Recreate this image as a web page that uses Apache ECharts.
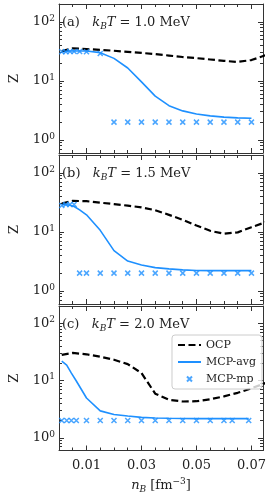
<!DOCTYPE html>
<html><head><meta charset="utf-8">
<script src="https://cdn.jsdelivr.net/npm/echarts@6/dist/echarts.min.js"></script>
<style>html,body{margin:0;padding:0;background:#fff}#c{width:270px;height:495px}</style>
</head><body><div id="c"></div>
<script>
// ---- data ----
const panelLabels = ['(a)', '(b)', '(c)'];
const temps = ['1.0', '1.5', '2.0'];
const xTickLabels = [0.01, 0.03, 0.05, 0.07];
const xMinorTicks = [0.005, 0.015, 0.02, 0.025, 0.035, 0.04, 0.045, 0.055, 0.06, 0.065];
const yMajorTicks = [1, 10, 100];
const yMinorTicks = [0.6, 0.7, 0.8, 0.9, 2, 3, 4, 5, 6, 7, 8, 9, 20, 30, 40, 50, 60, 70, 80, 90];

const nOCP = [0.001, 0.005, 0.01, 0.015, 0.02, 0.025, 0.03, 0.035, 0.04, 0.045, 0.05, 0.055, 0.06, 0.065, 0.07, 0.075];
const ocpA = [32, 35.5, 34.5, 33.5, 32.3, 31, 29.7, 28.3, 26.8, 25.3, 24.2, 23, 21.8, 20.9, 22.5, 27];
const ocpB = [30, 33.5, 33, 31.2, 29.5, 27.8, 26, 23.2, 19.4, 16, 12.8, 10.4, 9.3, 9.8, 12, 14.5];
const ocpC = [28, 30.3, 28.7, 26, 23, 19.3, 13.5, 5.9, 4.6, 4.3, 4.35, 4.7, 5.3, 6.1, 7.3, 9];

const nA = [0.001, 0.0025, 0.004, 0.0055, 0.0075, 0.01, 0.015, 0.02, 0.025, 0.03, 0.035, 0.04, 0.045, 0.05, 0.055, 0.06, 0.065, 0.07];
const avgA = [31, 31.5, 32, 32, 32, 32, 30, 24, 16.5, 9.6, 5.5, 3.8, 3.1, 2.75, 2.55, 2.43, 2.36, 2.33];
const mpA = [31, 31, 31.5, 31.5, 31.5, 31, 29, 2, 2, 2, 2, 2, 2, 2, 2, 2, 2, 2];

const nB = [0.001, 0.0025, 0.004, 0.0055, 0.0075, 0.01, 0.015, 0.02, 0.025, 0.03, 0.035, 0.04, 0.045, 0.05, 0.055, 0.06, 0.065, 0.07];
const avgB = [28.7, 28.7, 28.3, 26.8, 23.5, 19.4, 10.6, 4.8, 3.2, 2.75, 2.48, 2.36, 2.27, 2.22, 2.2, 2.2, 2.2, 2.2];
const mpB = [28, 29, 29, 29, 2, 2, 2, 2, 2, 2, 2, 2, 2, 2, 2, 2, 2, 2];

const nC = [0.001, 0.0028, 0.0045, 0.0063, 0.01, 0.015, 0.02, 0.025, 0.03, 0.035, 0.04, 0.045, 0.05, 0.055, 0.06, 0.063, 0.069];
const avgC = [21.8, 18.6, 13.5, 9.8, 4.95, 2.95, 2.55, 2.4, 2.27, 2.22, 2.19, 2.17, 2.16, 2.16, 2.16, 2.16, 2.16];
const mpC = [2, 2, 2, 2, 2, 2, 2, 2, 2, 2, 2, 2, 2, 2, 2, 2, 2];

// ---- styling / layout ----
const FONT = 'DejaVu Serif';
const BLUE = '#1e90ff';
const AXC = '#333';
const xMin = 0, xMax = 0.0742, yMin = 0.6, yMax = 200;
const gridTops = [4, 155, 306];
const gridH = 149;
// cross marker, padded bbox so the drawn cross is half the symbol size
const CROSS = 'path://M-5,-5M15,15M0,0L10,10M10,0L0,10';

const pairs = [
  [nOCP, ocpA, nA, avgA, mpA],
  [nOCP, ocpB, nB, avgB, mpB],
  [nOCP, ocpC, nC, avgC, mpC]
];

const zip = (xs, ys) => xs.map((x, i) => [x, ys[i]]);
const grids = [], xAxes = [], yAxes = [], series = [], graphics = [];

function xAx(g, pos, ticks, len, line, labels) {
  const a = {
    type: 'value', gridIndex: g, position: pos, min: xMin, max: xMax,
    splitLine: {show: false},
    axisLine: {show: line, onZero: false, lineStyle: {color: AXC, width: 1}},
    axisTick: {show: true, inside: true, length: len, customValues: ticks, lineStyle: {color: AXC, width: 1}},
    axisLabel: {show: false}
  };
  if (labels) {
    a.axisLabel = {show: true, customValues: xTickLabels, margin: 9, color: '#222',
      fontFamily: FONT, fontSize: 13, formatter: v => v.toFixed(2)};
    a.name = '{i|n}{s|B} [fm{p|\u22123}]';
    a.nameLocation = 'middle';
    a.nameGap = 27;
    a.nameTextStyle = {fontFamily: FONT, fontSize: 13, color: '#222',
      rich: {
        i: {fontFamily: FONT, fontStyle: 'italic', fontSize: 13, lineHeight: 16},
        s: {fontFamily: FONT, fontStyle: 'italic', fontSize: 9, lineHeight: 16, padding: [8, 0, 0, 0]},
        p: {fontFamily: FONT, fontSize: 9, lineHeight: 16, padding: [0, 0, 7, 0]}
      }};
  }
  return a;
}
function yAx(g, pos, ticks, len, line, labels) {
  const a = {
    type: 'log', logBase: 10, gridIndex: g, position: pos, min: yMin, max: yMax,
    splitLine: {show: false}, minorTick: {show: false},
    axisLine: {show: line, onZero: false, lineStyle: {color: AXC, width: 1}},
    axisTick: {show: true, inside: true, length: len, customValues: ticks, lineStyle: {color: AXC, width: 1}},
    axisLabel: {show: false}
  };
  if (labels) {
    a.axisLabel = {show: true, customValues: yMajorTicks, margin: 4, color: '#222',
      fontFamily: FONT, fontSize: 13,
      formatter: v => '10{p|' + Math.round(Math.log10(v)) + '}',
      rich: {p: {fontFamily: FONT, fontSize: 9, color: '#222', padding: [0, 0, 7, 0]}}};
    a.name = 'Z';
    a.nameLocation = 'middle';
    a.nameGap = 38;
    a.nameTextStyle = {fontFamily: FONT, fontSize: 13, color: '#222'};
  }
  return a;
}

for (let g = 0; g < 3; g++) {
  grids.push({left: 53, right: 7, top: gridTops[g], height: gridH, containLabel: false});
  const last = g === 2;
  xAxes.push(xAx(g, 'bottom', xTickLabels, 5, true, last));
  xAxes.push(xAx(g, 'bottom', xMinorTicks, 3, false, false));
  xAxes.push(xAx(g, 'top', xTickLabels, 5, true, false));
  xAxes.push(xAx(g, 'top', xMinorTicks, 3, false, false));
  yAxes.push(yAx(g, 'left', yMajorTicks, 5, true, true));
  yAxes.push(yAx(g, 'left', yMinorTicks, 3, false, false));
  yAxes.push(yAx(g, 'right', yMajorTicks, 5, true, false));
  yAxes.push(yAx(g, 'right', yMinorTicks, 3, false, false));

  const [xo, yo, xm, ya, ymp] = pairs[g];
  const xi = 4 * g, yi = 4 * g;
  series.push({
    name: 'OCP', type: 'line', xAxisIndex: xi, yAxisIndex: yi, data: zip(xo, yo),
    symbol: 'none', clip: true, z: 3,
    lineStyle: {color: '#000', width: 2.2, type: [7, 3.5]}, itemStyle: {color: '#000'}
  });
  series.push({
    name: 'MCP-avg', type: 'line', xAxisIndex: xi, yAxisIndex: yi, data: zip(xm, ya),
    symbol: 'none', clip: true, z: 2,
    lineStyle: {color: BLUE, width: 1.6}, itemStyle: {color: BLUE}
  });
  series.push({
    name: 'MCP-mp', type: 'scatter', xAxisIndex: xi, yAxisIndex: yi, data: zip(xm, ymp),
    symbol: CROSS, symbolSize: 10, z: 4,
    itemStyle: {color: BLUE, borderColor: BLUE, borderWidth: 1.5}
  });

  graphics.push({
    type: 'text', left: 62, top: gridTops[g] + 11,
    style: {
      text: panelLabels[g] + '   {i|k}{s|B}{i|T} = ' + temps[g] + ' MeV',
      fontFamily: FONT, fontSize: 13, fill: '#222', lineHeight: 16,
      rich: {
        i: {fontFamily: FONT, fontStyle: 'italic', fontSize: 13, lineHeight: 16, fill: '#222'},
        s: {fontFamily: FONT, fontStyle: 'italic', fontSize: 9, lineHeight: 16, padding: [7, 0, 0, 0], fill: '#222'}
      }
    }
  });
}

const chart = echarts.init(document.getElementById('c'), null, {renderer: 'canvas'});
chart.setOption({
  animation: false,
  backgroundColor: '#fff',
  grid: grids,
  xAxis: xAxes,
  yAxis: yAxes,
  series: series,
  graphic: graphics,
  legend: {
    data: [
      {name: 'OCP', itemStyle: {opacity: 0}},
      {name: 'MCP-avg', itemStyle: {opacity: 0}},
      {name: 'MCP-mp'}
    ],
    orient: 'vertical', right: 8, top: 335,
    itemWidth: 23, itemHeight: 10, itemGap: 5,
    padding: [4, 6, 4, 5],
    borderColor: '#ccc', borderWidth: 1, borderRadius: 3,
    backgroundColor: 'rgba(255,255,255,0.8)',
    textStyle: {fontFamily: FONT, fontSize: 11, color: '#222', lineHeight: 12}
  }
});
</script>
</body></html>
